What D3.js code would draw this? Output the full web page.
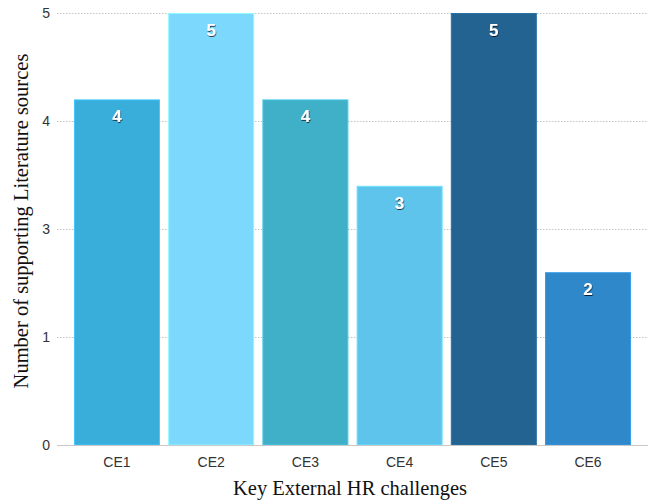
<!DOCTYPE html>
<html>
<head>
<meta charset="utf-8">
<script src="https://cdn.jsdelivr.net/npm/d3@7"></script>
<style>
  html, body { margin: 0; padding: 0; background: #fff; }
  svg { display: block; }
</style>
</head>
<body>
<svg id="chart" width="656" height="502"></svg>
<script>
// Literature support per external HR challenge
const categories = ["CE1", "CE2", "CE3", "CE4", "CE5", "CE6"];
const values = [4, 5, 4, 3, 5, 2];
const barColors = ["#3aaedb", "#7dd8fe", "#3fb0c8", "#5ec4ec", "#236391", "#2e88c9"];
const yTicks = [0, 1.25, 2.5, 3.75, 5];

(function () {
  const svg = d3.select("#chart");
  const plotLeft = 57, plotRight = 648, plotTop = 13, plotBottom = 445;
  const sans = "'Liberation Sans', Arial, sans-serif";
  const serif = "'Liberation Serif', 'DejaVu Serif', serif";

  const x = d3.scaleBand()
    .domain(categories)
    .range([plotLeft, plotRight])
    .paddingInner(0.087)
    .paddingOuter(0.18);

  const y = d3.scaleLinear().domain([0, 5]).range([plotBottom, plotTop]);

  // dotted gridlines
  svg.append("g")
    .selectAll("line")
    .data(yTicks.filter(d => d > 0))
    .join("line")
    .attr("x1", plotLeft).attr("x2", plotRight)
    .attr("y1", d => Math.round(y(d)) + 0.5).attr("y2", d => Math.round(y(d)) + 0.5)
    .attr("stroke", "#c4c4c4")
    .attr("stroke-width", 1)
    .attr("stroke-dasharray", "1.5,1.5");

  // y axis tick labels
  const yAxis = d3.axisLeft(y).tickValues(yTicks).tickFormat(d3.format(".0f")).tickSize(0).tickPadding(7);
  const gy = svg.append("g").attr("transform", `translate(${plotLeft},0)`).call(yAxis);
  gy.select(".domain").remove();
  gy.selectAll("text")
    .attr("font-family", sans)
    .attr("font-size", 14)
    .attr("fill", "#333");

  // bars
  svg.append("g")
    .selectAll("rect")
    .data(values)
    .join("rect")
    .attr("x", (d, i) => x(categories[i]) + 0.5)
    .attr("y", d => y(d) + 0.5)
    .attr("width", x.bandwidth() - 1)
    .attr("height", d => y(0) - y(d) - 0.5)
    .attr("fill", (d, i) => barColors[i])
    .attr("stroke", (d, i) => d3.color(barColors[i]).brighter(0.4))
    .attr("stroke-width", 1);

  // value labels with a soft dark shadow
  const defs = svg.append("defs");
  const f = defs.append("filter").attr("id", "shadow")
    .attr("x", "-50%").attr("y", "-50%").attr("width", "200%").attr("height", "200%");
  f.append("feDropShadow").attr("dx", 0.5).attr("dy", 1).attr("stdDeviation", 0.6)
    .attr("flood-color", "#000").attr("flood-opacity", 0.75);

  svg.append("g")
    .selectAll("text")
    .data(values)
    .join("text")
    .attr("x", (d, i) => x(categories[i]) + x.bandwidth() / 2)
    .attr("y", d => y(d) + 23)
    .attr("text-anchor", "middle")
    .attr("font-family", sans)
    .attr("font-weight", "bold")
    .attr("font-size", 17)
    .attr("fill", "#fff")
    .attr("filter", "url(#shadow)")
    .text(d => d);

  // baseline
  svg.append("line")
    .attr("x1", plotLeft).attr("x2", plotRight)
    .attr("y1", y(0) + 0.5).attr("y2", y(0) + 0.5)
    .attr("stroke", "#c8c8c8").attr("stroke-width", 1);

  // x axis category labels
  const xAxis = d3.axisBottom(x).tickSize(0).tickPadding(12);
  const gx = svg.append("g").attr("transform", `translate(0,${plotBottom})`).call(xAxis);
  gx.select(".domain").remove();
  gx.selectAll("text")
    .attr("font-family", sans)
    .attr("font-size", 14)
    .attr("fill", "#333");

  // axis titles
  svg.append("text")
    .attr("x", 350).attr("y", 495)
    .attr("text-anchor", "middle")
    .attr("font-family", serif)
    .attr("font-size", 20.5)
    .attr("fill", "#111")
    .text("Key External HR challenges");

  svg.append("text")
    .attr("transform", "translate(28,221) rotate(-90)")
    .attr("text-anchor", "middle")
    .attr("font-family", serif)
    .attr("font-size", 20.5)
    .attr("fill", "#111")
    .text("Number of supporting Literature sources");
})();
</script>
</body>
</html>
